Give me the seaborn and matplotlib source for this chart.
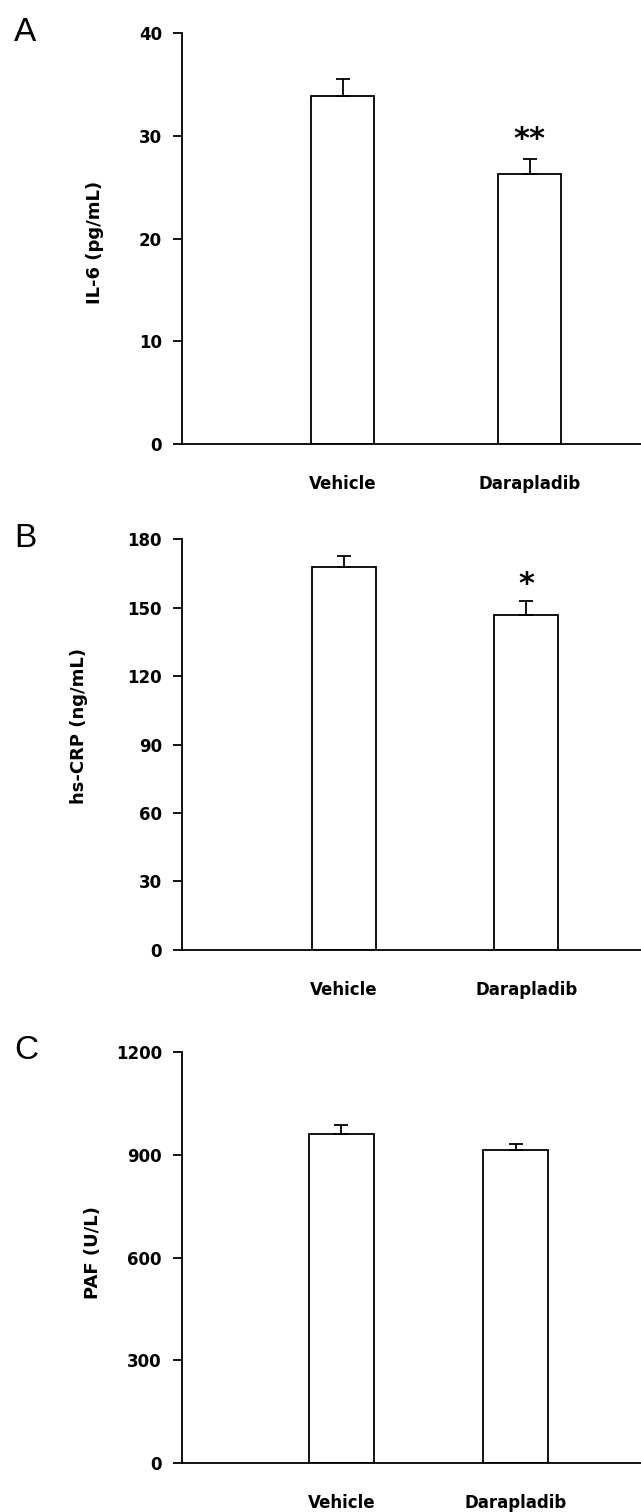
import pandas as pd
import matplotlib
matplotlib.use("Agg")
import matplotlib.pyplot as plt
import seaborn as sns

# Data
groups = ["Vehicle", "Darapladib"]
il6_mean = [33.9, 26.3]
il6_sem = [1.6, 1.4]
crp_mean = [167.7, 146.6]
crp_sem = [5.0, 6.4]
paf_mean = [960, 913]
paf_sem = [26, 17]

sns.set_style("white")
plt.rcParams["font.family"] = ["DejaVu Sans"]
plt.rcParams["text.color"] = "black"
plt.rcParams["axes.labelcolor"] = "black"
plt.rcParams["xtick.color"] = "black"
plt.rcParams["ytick.color"] = "black"

fig = plt.figure(figsize=(6.41, 15.12), dpi=100)

panels = [
    # letter, mean, sem, ylabel, ymax, step, marker, marker_y, axes rect, xlim, width, label x, label y
    ("A", il6_mean, il6_sem, "IL-6 (pg/mL)", 40, 10, "**", 29.6,
     [0.284, 0.7063, 0.716, 0.2719], (-0.858, 1.596), 0.34, -0.17, 0.49),
    ("B", crp_mean, crp_sem, "hs-CRP (ng/mL)", 180, 30, "*", 160.0,
     [0.284, 0.3717, 0.716, 0.2718], (-0.89, 1.63), 0.35, -0.205, 0.545),
    ("C", paf_mean, paf_sem, "PAF (U/L)", 1200, 300, "", 0,
     [0.284, 0.0322, 0.716, 0.2722], (-0.914, 1.72), 0.37, -0.174, 0.513),
]

for letter, mean, sem, ylab, ymax, step, mark, mark_y, rect, xlim, w, lx, ly in panels:
    ax = fig.add_axes(rect)
    df = pd.DataFrame({"Group": groups, "Value": mean})
    sns.barplot(data=df, x="Group", y="Value", color="white", edgecolor="black",
                linewidth=1.3, width=w, ax=ax, errorbar=None)
    ax.errorbar([0, 1], mean, yerr=[[0, 0], sem], fmt="none", ecolor="black",
                elinewidth=1.3, capsize=5, capthick=1.3)
    if mark:
        ax.text(1, mark_y, mark, ha="center", va="center", fontsize=22,
                fontweight="bold", color="black")

    ax.set_xlim(*xlim)
    ax.set_ylim(0, ymax)
    ax.set_yticks(range(0, ymax + 1, step))
    ax.set_xlabel("")
    ax.set_ylabel(ylab, fontsize=13, fontweight="bold", color="black")
    ax.yaxis.set_label_coords(lx, ly)

    sns.despine(ax=ax, top=True, right=True)
    for side in ["left", "bottom"]:
        ax.spines[side].set_linewidth(1.3)
        ax.spines[side].set_color("black")
    ax.tick_params(axis="y", direction="out", length=6.5, width=1.3, pad=8,
                   labelsize=12, left=True, colors="black")
    ax.tick_params(axis="x", length=0, pad=22, labelsize=12, colors="black")
    for lbl in ax.get_xticklabels() + ax.get_yticklabels():
        lbl.set_fontweight("bold")

    fig.text(0.022, rect[1] + rect[3] + 0.0005, letter, fontsize=24,
             ha="left", va="center", family=["Liberation Sans"], color="black")

fig.savefig("out.png", dpi=100, facecolor="white")
